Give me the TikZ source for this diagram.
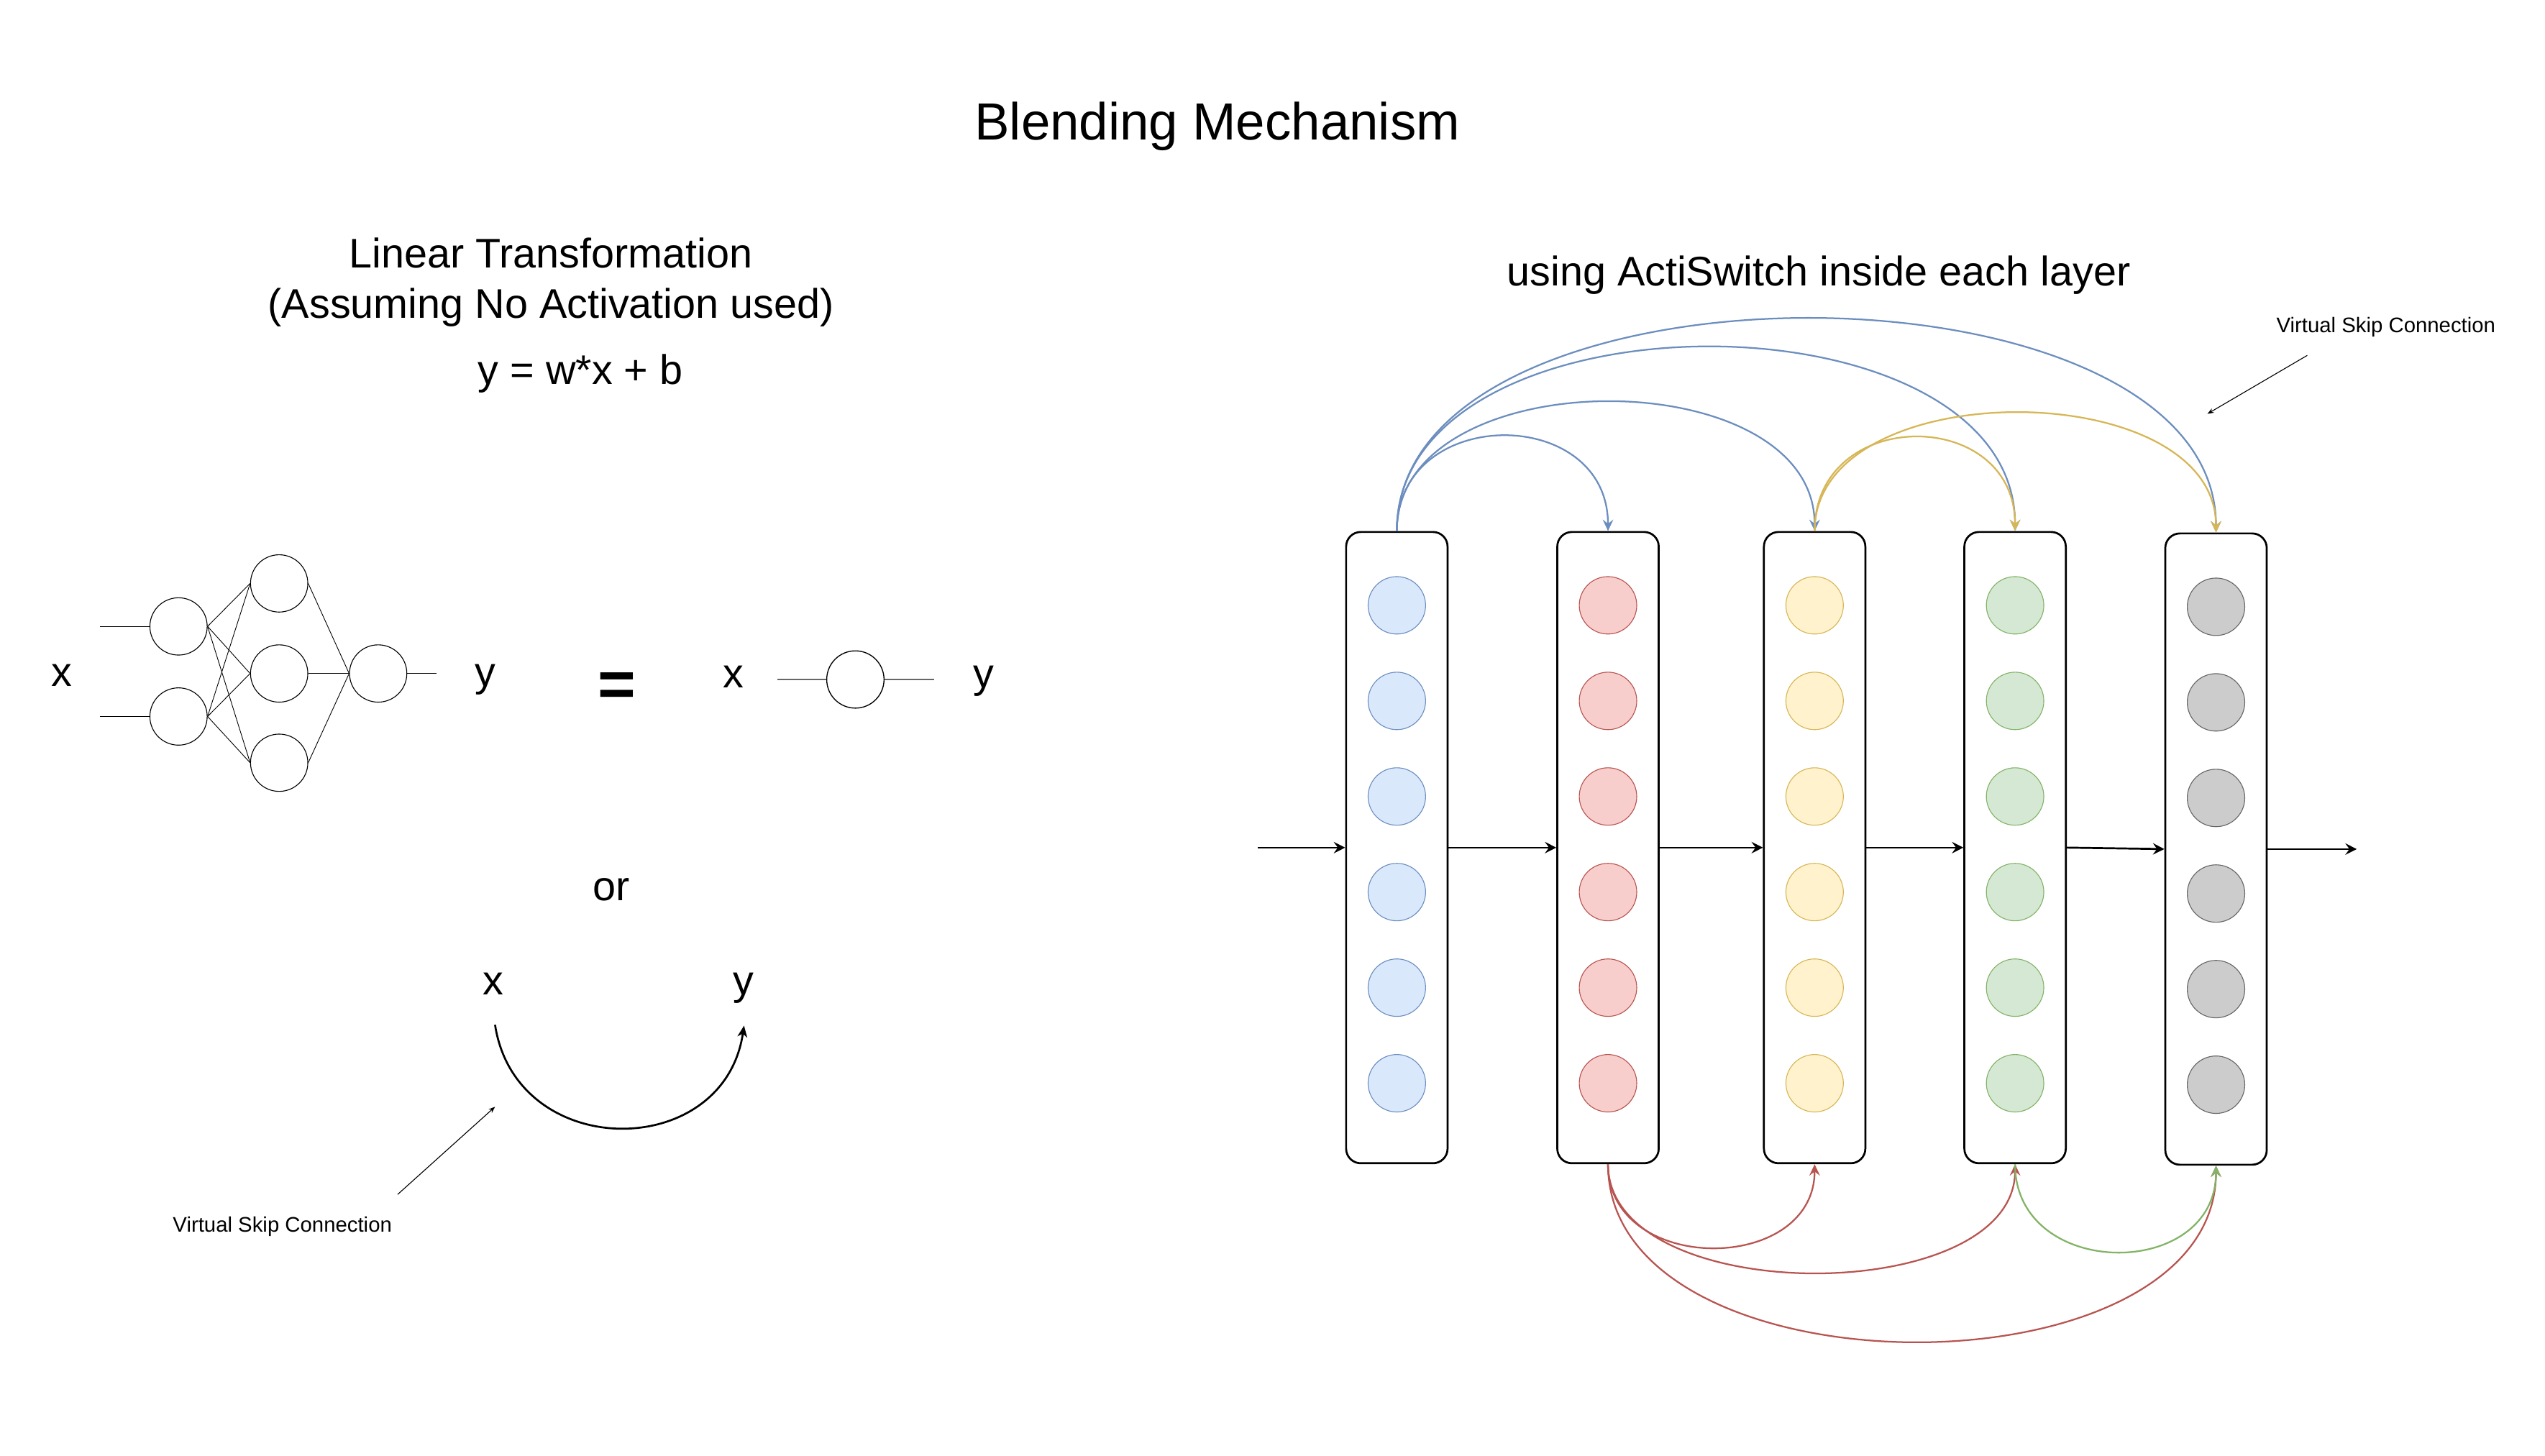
\documentclass[tikz,border=0pt]{standalone}
\usepackage{fontspec}
\setmainfont{Liberation Sans}
\usetikzlibrary{arrows.meta}
\definecolor{fblue}{HTML}{DAE8FC}
\definecolor{lblue}{HTML}{6C8EBF}
\definecolor{fred}{HTML}{F8CECC}
\definecolor{lred}{HTML}{B85450}
\definecolor{fyellow}{HTML}{FFF2CC}
\definecolor{lyellow}{HTML}{D6B656}
\definecolor{fgreen}{HTML}{D5E8D4}
\definecolor{lgreen}{HTML}{82B366}
\definecolor{fgray}{HTML}{CCCCCC}
\definecolor{lgray}{HTML}{666666}
\newcommand{\headsize}{\fontsize{32.2}{38}\selectfont}
\newcommand{\mainsize}{\fontsize{25.5}{30}\selectfont}
\newcommand{\notesize}{\fontsize{13}{16}\selectfont}
\newcommand{\eqsize}{\fontsize{40}{48}\selectfont\bfseries}
\tikzset{
  txt/.style={anchor=base, inner sep=0pt, font=\mainsize},
  neuron/.style={circle, draw, line width=0.5pt, minimum size=35.3pt, inner sep=0pt},
  layer/.style={draw, line width=1.2pt, rounded corners=9pt, minimum width=62.5pt, minimum height=389pt, inner sep=0pt},
  unit/.style={circle, line width=0.5pt, minimum size=35.4pt, inner sep=0pt},
  flow/.style={-{Stealth[length=7pt,width=7pt,inset=2.5pt]}, line width=1.2pt},
  skip/.style={-{Stealth[length=7pt,width=6.5pt,inset=2.5pt]}, line width=1pt},
  pointer/.style={-{Stealth[length=4pt,width=3pt]}, line width=0.5pt},
}

\begin{document}
\begin{tikzpicture}
    \pgfsetxvec{\pgfpoint{1pt}{0}}
    \pgfsetyvec{\pgfpoint{0}{-1pt}}
    \useasboundingbox (0,0) rectangle (1568,897);

    \node[txt, font=\headsize] (title) at (750,86) {Blending Mechanism};
    \node[txt] (lin) at (339.5,165) {Linear Transformation};
    \node[txt] (noact) at (339.5,196) {(Assuming No Activation used)};
    \node[txt] (formula) at (357.6,237) {y = w*x + b};
    \node[txt] (acti) at (1120.5,176) {using ActiSwitch inside each layer};

    % the small network
    \node[txt] (nx) at (38,423) {x};
    \node[txt] (ny) at (299,423) {y};
    \foreach \n/\y in {1/386,2/441.5} {
      \coordinate (in\n) at (61.5,\y);
      \node[neuron] (i\n) at (110,\y) {};
      \draw[line width=0.5pt] (in\n) -- (i\n);
    }
    \foreach \n/\y in {1/359.5,2/415,3/470}
      \node[neuron] (h\n) at (172,\y) {};
    \node[neuron] (o) at (233,415) {};
    \coordinate (oend) at (269,415);
    \foreach \a in {1,2}
      \foreach \b in {1,2,3}
        \draw[line width=0.4pt] (i\a.east) -- (h\b.west);
    \foreach \b in {1,2,3}
      \draw[line width=0.4pt] (h\b.east) -- (o.west);
    \draw[line width=0.5pt] (o) -- (oend);

    \node[txt, font=\eqsize] (eq) at (380,435.5) {=};
    \node[txt] (sx) at (452,424) {x};
    \node[neuron, line width=0.6pt] (s) at (527,418.7) {};
    \coordinate (sa) at (479,418.7);
    \coordinate (sb) at (575.4,418.7);
    \draw[line width=0.9pt, lgray] (sa) -- (s) -- (sb);
    \node[txt] (sy) at (606,424) {y};

    % skip instead
    \node[txt] (or) at (376.7,555) {or};
    \node[txt] (kx) at (304,613) {x};
    \node[txt] (ky) at (458,613) {y};
    \coordinate (ka) at (305,631.5);
    \coordinate (kb) at (458.4,632);
    \draw[-{Stealth[length=7pt,width=6pt,inset=2pt]}, line width=1.2pt] (ka) .. controls (318,716) and (446,716) .. (kb);
    \node[txt, font=\notesize] (noteL) at (174,759) {Virtual Skip Connection};
    \coordinate (pa) at (245,736);
    \coordinate (pb) at (305,682);
    \draw[pointer] (pa) -- (pb);

    % layers
    \foreach \n/\x/\y/\c in {1/860.6/522.3/blue,2/990.7/522.3/red,3/1118/522.3/yellow,4/1241.5/522.3/green,5/1365.3/523.2/gray} {
      \node[layer] (l\n) at (\x,\y) {};
      \foreach \k in {0,...,5}
        \node[unit, fill=f\c, draw=l\c] (u\n\k) at (\x,\y-149.3+\k*58.9) {};
    }
    \coordinate (src) at (775,522.3);
    \coordinate (dst) at (1452,523.2);
    \draw[flow] (src) -- (l1);
    \foreach \a/\b in {1/2,2/3,3/4,4/5}
      \draw[flow] (l\a.east) -- (l\b.west);
    \draw[flow] (l5) -- (dst);

    % skip arcs
    \foreach \t/\h in {2/78,3/106,4/151,5/175}
      \draw[skip, lblue] (l1.north) .. controls +(0,-\h) and +(0,-\h) .. (l\t.north);
    \foreach \t/\h in {4/77,5/97.6}
      \draw[skip, lyellow] (l3.north) .. controls +(0,-\h) and +(0,-\h) .. (l\t.north);
    \foreach \t/\h in {3/68.4,4/89,5/145}
      \draw[skip, lred] (l2.south) .. controls +(0,\h) and +(0,\h) .. (l\t.south);
    \draw[skip, lgreen] (l4.south) .. controls +(0,71.3) and +(0,71.3) .. (l5.south);

    \node[txt, font=\notesize] (noteR) at (1470,205) {Virtual Skip Connection};
    \coordinate (qa) at (1421.5,219);
    \coordinate (qb) at (1360,255);
    \draw[pointer] (qa) -- (qb);
  \end{tikzpicture}
\end{document}
